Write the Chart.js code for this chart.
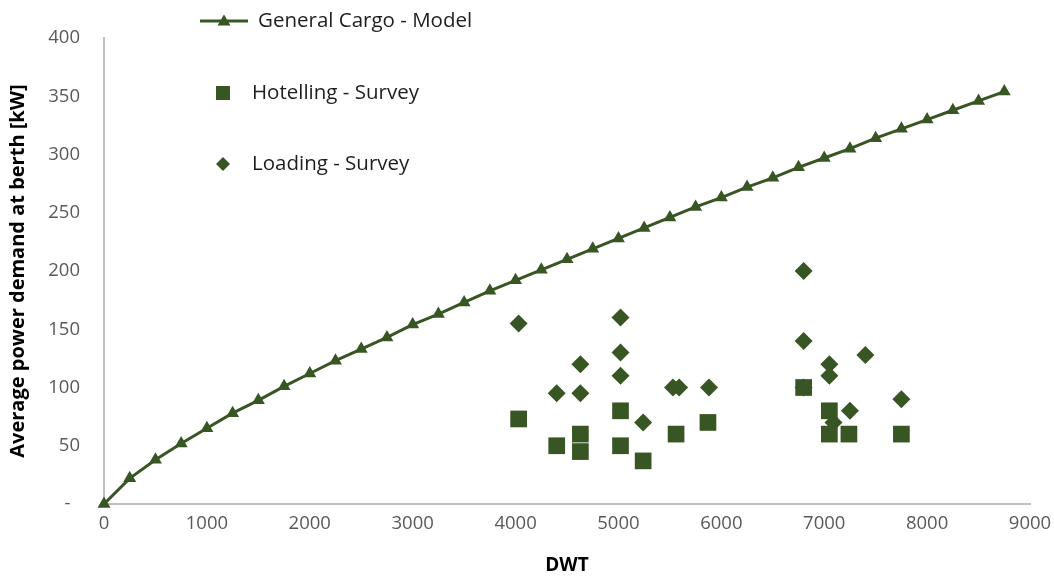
<!DOCTYPE html>
<html>
<head>
<meta charset="utf-8">
<script src="https://cdn.jsdelivr.net/npm/chart.js@4/dist/chart.umd.min.js"></script>
<style>
  html, body { margin: 0; padding: 0; background: #fff; }
  #wrap { width: 1054px; height: 577px; }
</style>
</head>
<body>
<div id="wrap"><canvas id="c" width="1054" height="577"></canvas></div>
<script>
// Model curve: DWT vs average power demand at berth (kW)
const modelDwt = [0, 250, 500, 750, 1000, 1250, 1500, 1750, 2000, 2250, 2500, 2750,
  3000, 3250, 3500, 3750, 4000, 4250, 4500, 4750, 5000, 5250, 5500, 5750,
  6000, 6250, 6500, 6750, 7000, 7250, 7500, 7750, 8000, 8250, 8500, 8750];
const modelKw = [0, 22, 38, 52, 65, 78, 89, 101, 112, 123, 133, 143,
  154, 163, 173, 183, 192, 201, 210, 219, 228, 237, 246, 255,
  263, 272, 280, 289, 297, 305, 314, 322, 330, 338, 346, 354];

// Survey: hotelling
const hotelDwt = [4030, 4400, 4630, 4630, 5020, 5020, 5240, 5560, 5870, 6800, 7050, 7050, 7240, 7750];
const hotelKw  = [73, 50, 60, 45, 50, 80, 37, 60, 70, 100, 80, 60, 60, 60];

// Survey: loading
const loadDwt = [4030, 4400, 4630, 4630, 5020, 5020, 5020, 5240, 5530, 5590, 5880,
  6800, 6800, 6800, 7050, 7050, 7090, 7250, 7400, 7750];
const loadKw  = [155, 95, 95, 120, 110, 130, 160, 70, 100, 100, 100,
  200, 140, 100, 120, 110, 70, 80, 128, 90];

// Axis ticks
const yTickStep = 50;
const xTickStep = 1000;

const GREEN = '#375623';
const FONT = "'Open Sans', 'DejaVu Sans', sans-serif";

const pts = (xs, ys) => xs.map((x, i) => ({ x: x, y: ys[i] }));

const seriesLabels = ['General Cargo - Model', 'Hotelling - Survey', 'Loading - Survey'];

// Legend drawn inside the plot, with wide row spacing
const innerLegend = {
  id: 'innerLegend',
  afterDraw(chart) {
    const c = chart.ctx;
    c.save();
    c.fillStyle = GREEN;
    c.strokeStyle = GREEN;
    // line + triangle
    c.lineWidth = 3;
    c.beginPath(); c.moveTo(200, 21); c.lineTo(248, 21); c.stroke();
    c.beginPath(); c.moveTo(224, 14.5); c.lineTo(230.5, 25.5); c.lineTo(217.5, 25.5); c.closePath(); c.fill();
    // square
    c.fillRect(216, 86, 14, 14);
    // diamond
    c.beginPath(); c.moveTo(223, 157); c.lineTo(230, 164); c.lineTo(223, 171); c.lineTo(216, 164); c.closePath(); c.fill();

    c.fillStyle = '#1e1e1e';
    c.font = "20.5px " + FONT;
    c.textBaseline = 'middle';
    c.textAlign = 'left';
    c.fillText(seriesLabels[0], 258, 21);
    c.fillText(seriesLabels[1], 252, 93);
    c.fillText(seriesLabels[2], 252, 164);
    c.restore();
  }
};

new Chart(document.getElementById('c'), {
  type: 'scatter',
  data: {
    datasets: [
      {
        label: seriesLabels[0],
        data: pts(modelDwt, modelKw),
        showLine: true,
        borderColor: GREEN,
        backgroundColor: GREEN,
        borderWidth: 3,
        pointStyle: 'triangle',
        pointRadius: 7.5,
        pointBorderWidth: 0,
        clip: false,
        order: 0
      },
      {
        label: seriesLabels[1],
        data: pts(hotelDwt, hotelKw),
        backgroundColor: GREEN,
        borderColor: GREEN,
        pointStyle: 'rect',
        pointRadius: 11.8,
        pointBorderWidth: 0,
        order: 1
      },
      {
        label: seriesLabels[2],
        data: pts(loadDwt, loadKw),
        backgroundColor: GREEN,
        borderColor: GREEN,
        pointStyle: 'rectRot',
        pointRadius: 9,
        pointBorderWidth: 0,
        order: 2
      }
    ]
  },
  options: {
    responsive: false,
    animation: false,
    events: [],
    layout: { padding: { top: 38, right: 24, left: 0, bottom: 0 } },
    plugins: {
      legend: { display: false },
      tooltip: { enabled: false }
    },
    scales: {
      x: {
        type: 'linear',
        min: 0,
        max: 9000,
        ticks: {
          stepSize: xTickStep,
          color: '#595959',
          font: { family: FONT, size: 18.5 },
          padding: 9,
          maxRotation: 0,
          callback: v => String(v)
        },
        grid: { display: false, drawTicks: false },
        border: { display: true, color: '#bfbfbf', width: 2 },
        title: {
          display: true,
          text: 'DWT',
          color: '#000',
          font: { family: FONT, size: 19, weight: 'bold' },
          padding: { top: 0, bottom: 0 }
        },
        afterFit: s => { s.height = 73; s.paddingLeft = 0; s.paddingRight = 0; }
      },
      y: {
        type: 'linear',
        min: 0,
        max: 400,
        ticks: {
          stepSize: yTickStep,
          color: '#595959',
          font: { family: FONT, size: 18.5 },
          padding: 24,
          callback: v => (v === 0 ? '-  ' : String(v))
        },
        grid: { display: false, drawTicks: false },
        border: { display: true, color: '#bfbfbf', width: 2 },
        title: {
          display: true,
          text: 'Average power demand at berth [kW]',
          color: '#000',
          font: { family: FONT, size: 20, weight: 'bold' },
          padding: { top: 6, bottom: 0 }
        },
        afterFit: s => { s.width = 104; }
      }
    }
  },
  plugins: [innerLegend]
});
</script>
</body>
</html>
